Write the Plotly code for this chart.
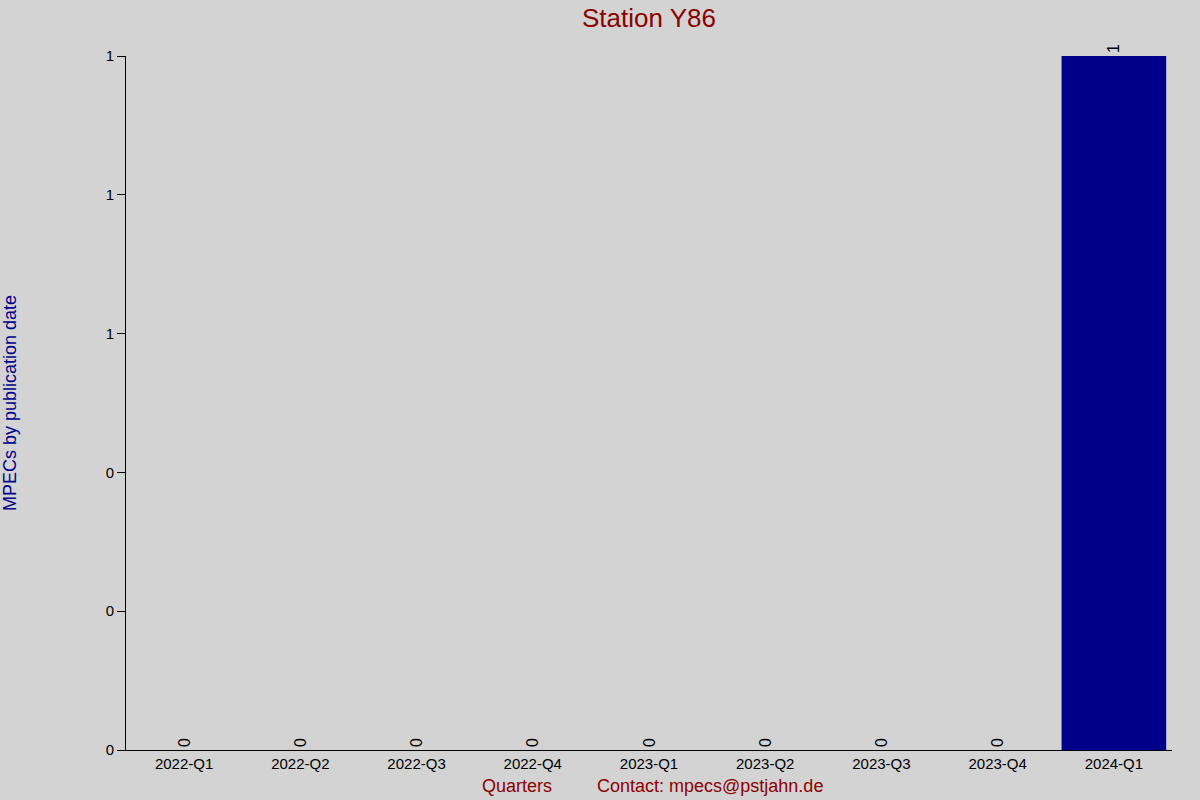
import plotly.graph_objects as go

quarters = ["2022-Q1", "2022-Q2", "2022-Q3", "2022-Q4", "2023-Q1",
            "2023-Q2", "2023-Q3", "2023-Q4", "2024-Q1"]
mpecs = [0, 0, 0, 0, 0, 0, 0, 0, 1]
y_ticks = [0, 0.2, 0.4, 0.6, 0.8, 1.0]

FONT = "Liberation Sans, Arial, sans-serif"
BG = "#d3d3d3"

fig = go.Figure()
fig.add_trace(go.Bar(
    x=quarters, y=mpecs,
    marker=dict(color="#00008b", line=dict(width=0)),
    text=[str(v) for v in mpecs],
    textposition="outside",
    textangle=-90,
    textfont=dict(family=FONT, size=16, color="#000000"),
    cliponaxis=False,
))

fig.update_layout(
    width=1200, height=800,
    paper_bgcolor=BG, plot_bgcolor=BG,
    margin=dict(l=126, r=28, t=56, b=50),
    bargap=0.1,
    showlegend=False,
    font=dict(family=FONT, size=15, color="#000000"),
    title=dict(text="Station Y86", x=649 / 1200, xanchor="center", y=1 - 18 / 800, yanchor="middle",
               font=dict(family=FONT, size=26, color="#8b0000")),
    xaxis=dict(showline=True, linecolor="#000000", linewidth=1, ticks="",
               showgrid=False, zeroline=False,
               tickfont=dict(family=FONT, size=15, color="#000000")),
    yaxis=dict(range=[0, 1], tickvals=y_ticks, tickformat=".0f",
               showline=True, linecolor="#000000", linewidth=1,
               ticks="outside", ticklen=8, tickcolor="#000000",
               showgrid=False, zeroline=False,
               tickfont=dict(family=FONT, size=15, color="#000000")),
    annotations=[
        dict(text="MPECs by publication date", xref="paper", yref="paper",
             x=(10 - 126) / 1046, xanchor="center", y=0.5, yanchor="middle", textangle=-90,
             showarrow=False, font=dict(family=FONT, size=18, color="#00008b")),
        dict(text="Quarters", xref="paper", yref="paper",
             x=(517 - 126) / 1046, xanchor="center", y=-36 / 694, yanchor="middle",
             showarrow=False, font=dict(family=FONT, size=18, color="#8b0000")),
        dict(text="Contact: mpecs@pstjahn.de", xref="paper", yref="paper",
             x=(710 - 126) / 1046, xanchor="center", y=-36 / 694, yanchor="middle",
             showarrow=False, font=dict(family=FONT, size=18, color="#8b0000")),
    ],
)

fig.write_html("out.html", config={"displayModeBar": False},
               post_script="document.body.style.margin='0';")
